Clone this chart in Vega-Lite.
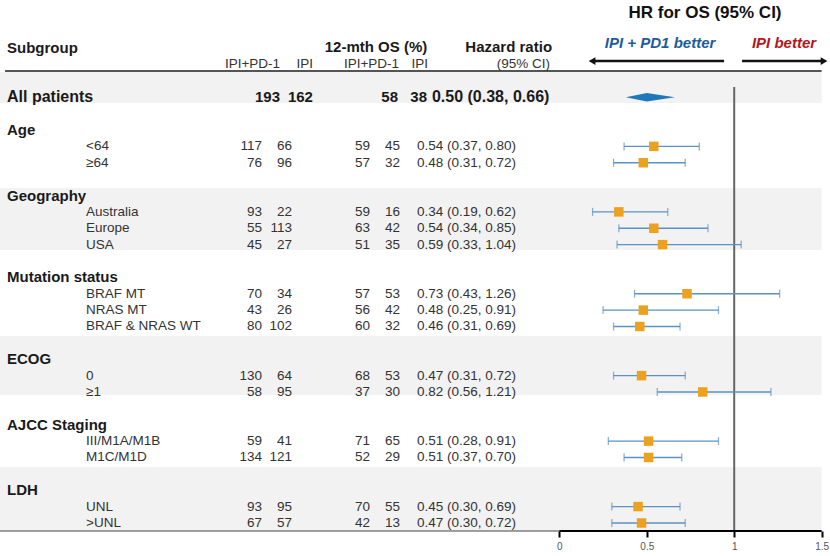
{
  "$schema": "https://vega.github.io/schema/vega-lite/v6.json",
  "width": 830,
  "height": 531,
  "autosize": {"type": "none"},
  "padding": {"left": 0, "top": 0, "right": 0, "bottom": 25},
  "config": {"view": {"stroke": null}, "font": "Liberation Sans", "text": {"font": "Liberation Sans"}},
  "datasets": {
    "rows": [
      {"label": "All patients", "kind": "all", "row": -2, "n1": 193, "n2": 162, "os1": 58, "os2": 38, "hr": 0.50, "lo": 0.38, "hi": 0.66, "ci": "0.50 (0.38, 0.66)"},
      {"label": "Age", "kind": "group", "row": 0},
      {"label": "<64", "kind": "item", "row": 1, "n1": 117, "n2": 66, "os1": 59, "os2": 45, "hr": 0.54, "lo": 0.37, "hi": 0.80, "ci": "0.54 (0.37, 0.80)"},
      {"label": "≥64", "kind": "item", "row": 2, "n1": 76, "n2": 96, "os1": 57, "os2": 32, "hr": 0.48, "lo": 0.31, "hi": 0.72, "ci": "0.48 (0.31, 0.72)"},
      {"label": "Geography", "kind": "group", "row": 4},
      {"label": "Australia", "kind": "item", "row": 5, "n1": 93, "n2": 22, "os1": 59, "os2": 16, "hr": 0.34, "lo": 0.19, "hi": 0.62, "ci": "0.34 (0.19, 0.62)"},
      {"label": "Europe", "kind": "item", "row": 6, "n1": 55, "n2": 113, "os1": 63, "os2": 42, "hr": 0.54, "lo": 0.34, "hi": 0.85, "ci": "0.54 (0.34, 0.85)"},
      {"label": "USA", "kind": "item", "row": 7, "n1": 45, "n2": 27, "os1": 51, "os2": 35, "hr": 0.59, "lo": 0.33, "hi": 1.04, "ci": "0.59 (0.33, 1.04)"},
      {"label": "Mutation status", "kind": "group", "row": 9},
      {"label": "BRAF MT", "kind": "item", "row": 10, "n1": 70, "n2": 34, "os1": 57, "os2": 53, "hr": 0.73, "lo": 0.43, "hi": 1.26, "ci": "0.73 (0.43, 1.26)"},
      {"label": "NRAS MT", "kind": "item", "row": 11, "n1": 43, "n2": 26, "os1": 56, "os2": 42, "hr": 0.48, "lo": 0.25, "hi": 0.91, "ci": "0.48 (0.25, 0.91)"},
      {"label": "BRAF & NRAS WT", "kind": "item", "row": 12, "n1": 80, "n2": 102, "os1": 60, "os2": 32, "hr": 0.46, "lo": 0.31, "hi": 0.69, "ci": "0.46 (0.31, 0.69)"},
      {"label": "ECOG", "kind": "group", "row": 14},
      {"label": "0", "kind": "item", "row": 15, "n1": 130, "n2": 64, "os1": 68, "os2": 53, "hr": 0.47, "lo": 0.31, "hi": 0.72, "ci": "0.47 (0.31, 0.72)"},
      {"label": "≥1", "kind": "item", "row": 16, "n1": 58, "n2": 95, "os1": 37, "os2": 30, "hr": 0.82, "lo": 0.56, "hi": 1.21, "ci": "0.82 (0.56, 1.21)"},
      {"label": "AJCC Staging", "kind": "group", "row": 18},
      {"label": "III/M1A/M1B", "kind": "item", "row": 19, "n1": 59, "n2": 41, "os1": 71, "os2": 65, "hr": 0.51, "lo": 0.28, "hi": 0.91, "ci": "0.51 (0.28, 0.91)"},
      {"label": "M1C/M1D", "kind": "item", "row": 20, "n1": 134, "n2": 121, "os1": 52, "os2": 29, "hr": 0.51, "lo": 0.37, "hi": 0.70, "ci": "0.51 (0.37, 0.70)"},
      {"label": "LDH", "kind": "group", "row": 22},
      {"label": "UNL", "kind": "item", "row": 23, "n1": 93, "n2": 95, "os1": 70, "os2": 55, "hr": 0.45, "lo": 0.30, "hi": 0.69, "ci": "0.45 (0.30, 0.69)"},
      {"label": ">UNL", "kind": "item", "row": 24, "n1": 67, "n2": 57, "os1": 42, "os2": 13, "hr": 0.47, "lo": 0.30, "hi": 0.72, "ci": "0.47 (0.30, 0.72)"}
    ],
    "bands": [
      {"group": "All patients", "from": -3.54, "to": -1.65},
      {"group": "Geography", "from": 3.54, "to": 7.33},
      {"group": "ECOG", "from": 12.58, "to": 16.18},
      {"group": "LDH", "from": 20.58, "to": 24.49}
    ]
  },
  "layer": [
    {
      "data": {"name": "bands"},
      "mark": {"type": "rect", "color": "#f2f2f2"},
      "encoding": {
        "x": {"datum": -3.2, "type": "quantitative",
              "scale": {"domain": [-3.2, 1.548], "nice": false, "zero": false},
              "axis": {"values": [0, 0.5, 1, 1.5], "format": "~g", "title": null, "domain": false, "grid": false, "ticks": true, "tickSize": 6, "tickWidth": 2, "tickColor": "#000", "labels": true, "labelFontSize": 10, "labelColor": "#555", "labelPadding": 4, "labelFont": "Liberation Sans"}},
        "x2": {"datum": 1.5},
        "y": {"field": "from", "type": "quantitative", "scale": {"domain": [-7.94, 24.49], "reverse": true, "nice": false, "zero": false}, "axis": null},
        "y2": {"field": "to"}
      }
    },
    {
      "data": {"values": [{}]},
      "mark": {"type": "rule", "color": "#555", "strokeWidth": 2},
      "encoding": {"x": {"datum": -3.171, "type": "quantitative"}, "x2": {"datum": 1.5}, "y": {"datum": -3.603, "type": "quantitative", "axis": null}}
    },
    {
      "data": {"values": [{}]},
      "mark": {"type": "rule", "color": "#666", "strokeWidth": 2},
      "encoding": {"x": {"datum": 1, "type": "quantitative"}, "y": {"datum": -2.63, "type": "quantitative", "axis": null}, "y2": {"datum": 24.49}}
    },
    {
      "data": {"values": [{}]},
      "mark": {"type": "rule", "color": "#444", "strokeWidth": 1},
      "encoding": {"x": {"datum": -3.2, "type": "quantitative"}, "x2": {"datum": 0}, "y": {"datum": 24.49, "type": "quantitative", "axis": null}}
    },
    {
      "data": {"values": [{}]},
      "mark": {"type": "rule", "color": "#000", "strokeWidth": 2},
      "encoding": {"x": {"datum": 0, "type": "quantitative"}, "x2": {"datum": 1.5}, "y": {"datum": 24.49, "type": "quantitative", "axis": null}}
    },
    {
      "data": {"name": "rows"},
      "transform": [{"filter": "datum.kind === 'item'"}],
      "mark": {"type": "rule", "color": "#5a93c3", "strokeWidth": 1.3},
      "encoding": {"x": {"field": "lo", "type": "quantitative"}, "x2": {"field": "hi"}, "y": {"field": "row", "type": "quantitative", "axis": null}}
    },
    {
      "data": {"name": "rows"},
      "transform": [{"filter": "datum.kind === 'item'"}],
      "mark": {"type": "tick", "color": "#5a93c3", "orient": "vertical", "size": 8, "thickness": 1.3},
      "encoding": {"x": {"field": "lo", "type": "quantitative"}, "y": {"field": "row", "type": "quantitative", "axis": null}}
    },
    {
      "data": {"name": "rows"},
      "transform": [{"filter": "datum.kind === 'item'"}],
      "mark": {"type": "tick", "color": "#5a93c3", "orient": "vertical", "size": 8, "thickness": 1.3},
      "encoding": {"x": {"field": "hi", "type": "quantitative"}, "y": {"field": "row", "type": "quantitative", "axis": null}}
    },
    {
      "data": {"name": "rows"},
      "transform": [{"filter": "datum.kind === 'item'"}],
      "mark": {"type": "point", "shape": "square", "filled": true, "size": 90, "color": "#eca21f", "opacity": 1},
      "encoding": {"x": {"field": "hr", "type": "quantitative"}, "y": {"field": "row", "type": "quantitative", "axis": null}}
    },
    {
      "data": {"name": "rows"},
      "transform": [{"filter": "datum.kind === 'all'"}],
      "mark": {"type": "point", "shape": "M-0.75,0L0,-0.15L1,0L0,0.15Z", "filled": true, "size": 3136, "color": "#1f78b8", "opacity": 1},
      "encoding": {"x": {"field": "hr", "type": "quantitative"}, "y": {"field": "row", "type": "quantitative", "axis": null}}
    },
    {
      "data": {"name": "rows"},
      "transform": [{"filter": "datum.kind === 'group'"}],
      "mark": {"type": "text", "align": "left", "fontWeight": "bold", "fontSize": 15, "color": "#1a1a1a"},
      "encoding": {"x": {"datum": -3.16, "type": "quantitative"}, "y": {"field": "row", "type": "quantitative", "axis": null}, "text": {"field": "label"}}
    },
    {
      "data": {"name": "rows"},
      "transform": [{"filter": "datum.kind === 'all'"}],
      "mark": {"type": "text", "align": "left", "fontWeight": "bold", "fontSize": 16, "color": "#1a1a1a"},
      "encoding": {"x": {"datum": -3.16, "type": "quantitative"}, "y": {"field": "row", "type": "quantitative", "axis": null}, "text": {"field": "label"}}
    },
    {
      "data": {"name": "rows"},
      "transform": [{"filter": "datum.kind === 'item'"}],
      "mark": {"type": "text", "align": "left", "fontSize": 13.5, "color": "#333"},
      "encoding": {"x": {"datum": -2.708, "type": "quantitative"}, "y": {"field": "row", "type": "quantitative", "axis": null}, "text": {"field": "label"}}
    },
    {
      "data": {"name": "rows"},
      "transform": [{"filter": "datum.kind === 'item'"}],
      "mark": {"type": "text", "align": "right", "fontSize": 13.5, "color": "#333"},
      "encoding": {"x": {"datum": -1.701, "type": "quantitative"}, "y": {"field": "row", "type": "quantitative", "axis": null}, "text": {"field": "n1", "type": "quantitative"}}
    },
    {
      "data": {"name": "rows"},
      "transform": [{"filter": "datum.kind === 'item'"}],
      "mark": {"type": "text", "align": "right", "fontSize": 13.5, "color": "#333"},
      "encoding": {"x": {"datum": -1.530, "type": "quantitative"}, "y": {"field": "row", "type": "quantitative", "axis": null}, "text": {"field": "n2", "type": "quantitative"}}
    },
    {
      "data": {"name": "rows"},
      "transform": [{"filter": "datum.kind === 'item'"}],
      "mark": {"type": "text", "align": "right", "fontSize": 13.5, "color": "#333"},
      "encoding": {"x": {"datum": -1.083, "type": "quantitative"}, "y": {"field": "row", "type": "quantitative", "axis": null}, "text": {"field": "os1", "type": "quantitative"}}
    },
    {
      "data": {"name": "rows"},
      "transform": [{"filter": "datum.kind === 'item'"}],
      "mark": {"type": "text", "align": "right", "fontSize": 13.5, "color": "#333"},
      "encoding": {"x": {"datum": -0.912, "type": "quantitative"}, "y": {"field": "row", "type": "quantitative", "axis": null}, "text": {"field": "os2", "type": "quantitative"}}
    },
    {
      "data": {"name": "rows"},
      "transform": [{"filter": "datum.kind === 'item'"}],
      "mark": {"type": "text", "align": "left", "fontSize": 13.5, "color": "#333"},
      "encoding": {"x": {"datum": -0.815, "type": "quantitative"}, "y": {"field": "row", "type": "quantitative", "axis": null}, "text": {"field": "ci"}}
    },
    {
      "data": {"name": "rows"},
      "transform": [{"filter": "datum.kind === 'all'"}],
      "mark": {"type": "text", "align": "right", "fontWeight": "bold", "fontSize": 15, "color": "#1a1a1a"},
      "encoding": {"x": {"datum": -1.598, "type": "quantitative"}, "y": {"field": "row", "type": "quantitative", "axis": null}, "text": {"field": "n1", "type": "quantitative"}}
    },
    {
      "data": {"name": "rows"},
      "transform": [{"filter": "datum.kind === 'all'"}],
      "mark": {"type": "text", "align": "right", "fontWeight": "bold", "fontSize": 15, "color": "#1a1a1a"},
      "encoding": {"x": {"datum": -1.410, "type": "quantitative"}, "y": {"field": "row", "type": "quantitative", "axis": null}, "text": {"field": "n2", "type": "quantitative"}}
    },
    {
      "data": {"name": "rows"},
      "transform": [{"filter": "datum.kind === 'all'"}],
      "mark": {"type": "text", "align": "right", "fontWeight": "bold", "fontSize": 15, "color": "#1a1a1a"},
      "encoding": {"x": {"datum": -0.923, "type": "quantitative"}, "y": {"field": "row", "type": "quantitative", "axis": null}, "text": {"field": "os1", "type": "quantitative"}}
    },
    {
      "data": {"name": "rows"},
      "transform": [{"filter": "datum.kind === 'all'"}],
      "mark": {"type": "text", "align": "right", "fontWeight": "bold", "fontSize": 15, "color": "#1a1a1a"},
      "encoding": {"x": {"datum": -0.757, "type": "quantitative"}, "y": {"field": "row", "type": "quantitative", "axis": null}, "text": {"field": "os2", "type": "quantitative"}}
    },
    {
      "data": {"name": "rows"},
      "transform": [{"filter": "datum.kind === 'all'"}],
      "mark": {"type": "text", "align": "left", "fontWeight": "bold", "fontSize": 16, "color": "#1a1a1a"},
      "encoding": {"x": {"datum": -0.729, "type": "quantitative"}, "y": {"field": "row", "type": "quantitative", "axis": null}, "text": {"field": "ci"}}
    },
    {
      "data": {"values": [{}]},
      "mark": {"type": "text", "text": "Subgroup", "align": "left", "fontWeight": "bold", "fontSize": 15, "color": "#1a1a1a"},
      "encoding": {"x": {"datum": -3.16, "type": "quantitative"}, "y": {"datum": -5.0, "type": "quantitative", "axis": null}}
    },
    {
      "data": {"values": [{}]},
      "mark": {"type": "text", "text": "12-mth OS (%)", "align": "center", "fontWeight": "bold", "fontSize": 15, "color": "#1a1a1a"},
      "encoding": {"x": {"datum": -1.049, "type": "quantitative"}, "y": {"datum": -5.07, "type": "quantitative", "axis": null}}
    },
    {
      "data": {"values": [{}]},
      "mark": {"type": "text", "text": "Hazard ratio", "align": "right", "fontWeight": "bold", "fontSize": 15, "color": "#1a1a1a"},
      "encoding": {"x": {"datum": -0.042, "type": "quantitative"}, "y": {"datum": -5.07, "type": "quantitative", "axis": null}}
    },
    {
      "data": {"values": [{}]},
      "mark": {"type": "text", "text": "IPI+PD-1", "align": "right", "fontSize": 13.5, "color": "#333"},
      "encoding": {"x": {"datum": -1.598, "type": "quantitative"}, "y": {"datum": -4.03, "type": "quantitative", "axis": null}}
    },
    {
      "data": {"values": [{}]},
      "mark": {"type": "text", "text": "IPI", "align": "right", "fontSize": 13.5, "color": "#333"},
      "encoding": {"x": {"datum": -1.410, "type": "quantitative"}, "y": {"datum": -4.03, "type": "quantitative", "axis": null}}
    },
    {
      "data": {"values": [{}]},
      "mark": {"type": "text", "text": "IPI+PD-1", "align": "right", "fontSize": 13.5, "color": "#333"},
      "encoding": {"x": {"datum": -0.917, "type": "quantitative"}, "y": {"datum": -4.03, "type": "quantitative", "axis": null}}
    },
    {
      "data": {"values": [{}]},
      "mark": {"type": "text", "text": "IPI", "align": "right", "fontSize": 13.5, "color": "#333"},
      "encoding": {"x": {"datum": -0.752, "type": "quantitative"}, "y": {"datum": -4.03, "type": "quantitative", "axis": null}}
    },
    {
      "data": {"values": [{}]},
      "mark": {"type": "text", "text": "(95% CI)", "align": "right", "fontSize": 13.5, "color": "#333"},
      "encoding": {"x": {"datum": -0.054, "type": "quantitative"}, "y": {"datum": -4.03, "type": "quantitative", "axis": null}}
    },
    {
      "data": {"values": [{}]},
      "mark": {"type": "text", "text": "HR for OS (95% CI)", "align": "center", "fontWeight": "bold", "fontSize": 17, "color": "#111"},
      "encoding": {"x": {"datum": 0.833, "type": "quantitative"}, "y": {"datum": -7.145, "type": "quantitative", "axis": null}}
    },
    {
      "data": {"values": [{}]},
      "mark": {"type": "text", "text": "IPI + PD1 better", "align": "center", "fontWeight": "bold", "fontStyle": "italic", "fontSize": 15, "color": "#1c5c9c"},
      "encoding": {"x": {"datum": 0.576, "type": "quantitative"}, "y": {"datum": -5.313, "type": "quantitative", "axis": null}}
    },
    {
      "data": {"values": [{}]},
      "mark": {"type": "text", "text": "IPI better", "align": "center", "fontWeight": "bold", "fontStyle": "italic", "fontSize": 15, "color": "#b3161b"},
      "encoding": {"x": {"datum": 1.285, "type": "quantitative"}, "y": {"datum": -5.313, "type": "quantitative", "axis": null}}
    },
    {
      "data": {"values": [{}]},
      "mark": {"type": "rule", "color": "#111", "strokeWidth": 2.5},
      "encoding": {"x": {"datum": 0.187, "type": "quantitative"}, "x2": {"datum": 0.942}, "y": {"datum": -4.214, "type": "quantitative", "axis": null}}
    },
    {
      "data": {"values": [{}]},
      "mark": {"type": "rule", "color": "#111", "strokeWidth": 2.5},
      "encoding": {"x": {"datum": 1.045, "type": "quantitative"}, "x2": {"datum": 1.514}, "y": {"datum": -4.214, "type": "quantitative", "axis": null}}
    },
    {
      "data": {"values": [{}]},
      "mark": {"type": "point", "shape": "triangle-left", "filled": true, "size": 60, "color": "#111", "opacity": 1},
      "encoding": {"x": {"datum": 0.187, "type": "quantitative"}, "y": {"datum": -4.214, "type": "quantitative", "axis": null}}
    },
    {
      "data": {"values": [{}]},
      "mark": {"type": "point", "shape": "triangle-right", "filled": true, "size": 60, "color": "#111", "opacity": 1},
      "encoding": {"x": {"datum": 1.514, "type": "quantitative"}, "y": {"datum": -4.214, "type": "quantitative", "axis": null}}
    }
  ]
}
